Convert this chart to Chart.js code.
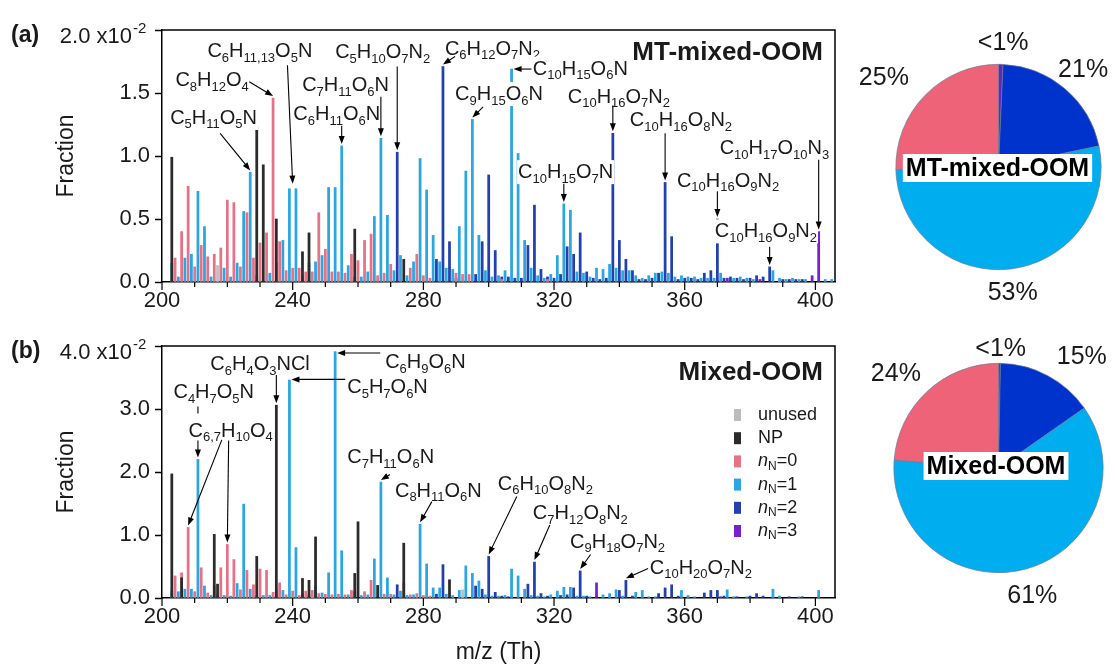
<!DOCTYPE html>
<html>
<head>
<meta charset="utf-8">
<script src="https://cdn.jsdelivr.net/npm/chart.js@4.4.0/dist/chart.umd.min.js"></script>
<style>
  body { margin: 0; background: #fff; }
  #wrap { position: relative; width: 1115px; height: 666px; overflow: hidden; }
  canvas { position: absolute; }
</style>
</head>
<body>
<div id="wrap">
  <canvas id="specA" width="845" height="320" style="left:0;top:0"></canvas>
  <canvas id="specB" width="845" height="346" style="left:0;top:320px"></canvas>
  <canvas id="pieA" width="270" height="320" style="left:845px;top:0"></canvas>
  <canvas id="pieB" width="270" height="346" style="left:845px;top:320px"></canvas>
</div>
<script>
// fonts and colours
const FAMILY = '"Liberation Sans", Arial, sans-serif';
const INK = '#1a1a1a';

// series names (legend order)
const groupNames = ['unused', 'NP', 'nN=0', 'nN=1', 'nN=2', 'nN=3'];
const barColors = ['#bdbdbd', '#2b2b2b', '#e57287', '#2aa6e0', '#2340b0', '#7a1fd0'];
const mzTicks = [200, 240, 280, 320, 360, 400];

// (a) MT-mixed-OOM : [m/z, fraction x1e-2]
const mtUnused = [[217,0.13],[389,0.02],[391,0.02],[393,0.02]];
const mtNP = [[203,0.99],[229,1.23],[231,0.93],[235,0.50],[243,0.24],[245,0.39],[259,0.42],[274,0.18]];
const mtN0 = [[204,0.19],[206,0.40],[208,0.76],[210,0.12],[212,0.29],[214,0.20],[216,0.22],[218,0.27],[220,0.65],[222,0.63],[224,0.12],[226,0.55],[228,0.19],[230,0.31],[232,0.39],[234,1.46],[236,0.32],[238,0.09],[240,0.11],[242,0.11],[244,0.08],[246,0.08],[248,0.55],[250,0.26],[252,0.08],[254,0.08],[256,0.07],[258,0.22],[260,0.17],[262,0.33],[264,0.38],[266,0.05],[268,0.07],[270,0.14],[276,0.11],[278,0.22],[280,0.05],[282,0.03],[290,0.07],[292,0.06],[294,0.06],[304,0.02],[318,0.02]];
const mtN1 = [[203,0.15],[205,0.04],[207,0.19],[209,0.22],[211,0.72],[213,0.44],[215,0.04],[219,0.11],[221,0.04],[223,0.15],[225,0.56],[227,0.87],[229,0.05],[233,0.07],[235,0.15],[237,0.33],[239,0.74],[241,0.74],[243,0.05],[245,0.15],[247,0.16],[249,0.21],[251,0.75],[253,0.75],[255,1.08],[257,0.13],[259,0.04],[261,0.04],[263,0.08],[265,0.52],[267,1.14],[269,0.53],[271,0.09],[273,0.21],[275,0.05],[277,0.16],[279,0.98],[281,0.73],[283,0.37],[285,0.16],[287,0.11],[289,0.10],[291,0.44],[293,0.88],[295,1.29],[297,0.37],[299,0.09],[301,0.04],[303,0.05],[305,0.09],[307,1.69],[309,1.02],[311,0.33],[313,0.11],[315,0.05],[317,0.03],[319,0.06],[321,0.21],[323,0.62],[325,0.57],[327,0.08],[329,0.07],[331,0.04],[333,0.11],[335,0.10],[337,0.14],[339,0.11],[341,0.09],[343,0.09],[345,0.05],[347,0.03],[349,0.05],[351,0.07],[353,0.08],[355,0.07],[357,0.04],[359,0.05],[361,0.04],[363,0.04],[365,0.03],[367,0.03],[369,0.03],[371,0.07],[373,0.03],[375,0.03],[377,0.04],[379,0.03],[381,0.02],[387,0.09],[389,0.03],[391,0.02],[393,0.03],[395,0.02],[397,0.02],[403,0.02],[405,0.02]];
const mtN2 = [[272,1.03],[284,0.18],[286,1.71],[288,0.32],[290,0.03],[296,0.06],[298,0.32],[300,0.85],[302,0.25],[304,0.04],[306,0.04],[308,0.03],[310,0.03],[312,0.29],[314,0.61],[316,0.10],[318,0.04],[320,0.03],[322,0.06],[324,0.28],[326,0.22],[328,0.39],[330,0.08],[332,0.03],[334,0.02],[336,0.03],[338,1.18],[340,0.33],[342,0.18],[344,0.09],[346,0.02],[348,0.02],[350,0.03],[352,0.07],[354,0.79],[356,0.36],[358,0.02],[360,0.03],[362,0.03],[364,0.02],[366,0.07],[368,0.09],[370,0.50],[372,0.03],[374,0.04],[376,0.03],[378,0.02],[380,0.03],[382,0.05],[384,0.04],[386,0.12],[390,0.02],[392,0.02],[394,0.02],[396,0.02]];
const mtN3 = [[373,0.03],[383,0.02],[399,0.05],[401,0.40]];

// (b) Mixed-OOM : [m/z, fraction x1e-2]
const mxUnused = [[246,0.03],[292,0.13]];
const mxNP = [[203,1.97],[206,0.32],[216,1.01],[217,0.22],[229,0.66],[235,3.06],[243,0.31],[245,0.28],[247,0.97],[259,0.39],[260,1.21],[266,0.20],[274,0.87],[288,0.29]];
const mxN0 = [[204,0.35],[206,0.40],[208,1.12],[210,0.10],[212,0.48],[214,0.08],[216,0.19],[218,0.48],[220,0.85],[222,0.61],[224,0.13],[226,0.44],[228,0.21],[230,0.46],[232,0.44],[234,0.09],[236,0.24],[238,0.05],[240,0.11],[242,0.04],[244,0.11],[246,0.12],[248,0.07],[250,0.06],[252,0.05],[254,0.06],[256,0.05],[258,0.12],[262,0.10],[264,0.28],[268,0.06],[270,0.06],[274,0.24],[276,0.05],[278,0.07],[280,0.04],[282,0.03]];
const mxN1 = [[203,0.11],[205,0.10],[207,0.14],[209,0.14],[211,2.20],[213,0.19],[215,0.04],[217,0.05],[219,0.04],[221,0.03],[223,0.23],[225,1.49],[227,0.14],[229,0.04],[231,0.04],[233,0.04],[235,0.14],[237,0.12],[239,3.46],[241,0.80],[243,0.07],[245,0.05],[247,0.19],[249,0.08],[251,0.40],[253,3.91],[255,0.75],[257,0.05],[259,0.10],[261,0.04],[263,0.05],[265,0.62],[267,1.84],[269,0.32],[271,0.05],[273,0.11],[275,0.04],[277,0.05],[279,1.17],[281,0.54],[283,0.16],[285,0.16],[287,0.06],[289,0.04],[291,0.12],[293,0.51],[295,0.39],[297,0.27],[299,0.05],[301,0.03],[303,0.03],[305,0.04],[307,0.46],[309,0.35],[311,0.14],[313,0.04],[315,0.03],[317,0.02],[319,0.05],[321,0.11],[323,0.17],[325,0.17],[327,0.03],[329,0.03],[331,0.02],[335,0.05],[337,0.07],[339,0.13],[341,0.03],[345,0.09],[347,0.12],[349,0.02],[351,0.02],[359,0.12],[361,0.04],[363,0.02],[373,0.13],[375,0.02],[379,0.02],[387,0.14],[389,0.03],[395,0.02],[401,0.12]];
const mxN2 = [[272,0.21],[284,0.06],[286,0.53],[296,0.19],[298,0.14],[300,0.66],[302,0.09],[304,0.03],[306,0.02],[312,0.22],[314,0.57],[316,0.07],[318,0.03],[322,0.04],[324,0.05],[326,0.16],[328,0.43],[330,0.03],[340,0.12],[342,0.28],[344,0.03],[352,0.07],[354,0.16],[356,0.21],[358,0.03],[366,0.08],[368,0.12],[370,0.12],[372,0.03],[376,0.02],[380,0.03],[382,0.07],[384,0.03],[392,0.02],[396,0.02]];
const mxN3 = [[333,0.24],[371,0.02]];

// pie shares (%), order nN=3, nN=2, nN=1, nN=0 (clockwise from top)
const pieNames = ['nN=3', 'nN=2', 'nN=1', 'nN=0'];
const pieColors = ['#6a1fc8', '#0033cc', '#00aeef', '#ee6377'];
const pieMT = [0.7, 21.0, 52.8, 25.4];
const pieMixed = [0.3, 15.0, 60.9, 23.8];

// labelled peaks: label left/centre at [m/z, frac], arrows to bars
const notesA = [
  { t: 'C5H11O5N', at: [202.5, 1.31], arrows: [{ from: [217.8, 1.18], bar: 227 }] },
  { t: 'C8H12O4', at: [204.1, 1.61], arrows: [{ from: [226.7, 1.59], bar: 234 }] },
  { t: 'C6H11,13O5N', at: [213.9, 1.84], arrows: [{ from: [238.4, 1.72], to: [240, 0.78] }] },
  { t: 'C7H11O6N', at: [242.9, 1.57], arrows: [{ from: [267, 1.47], bar: 267 }] },
  { t: 'C6H11O6N', at: [240.2, 1.34], arrows: [{ from: [255, 1.24], bar: 255 }] },
  { t: 'C5H10O7N2', at: [253, 1.83], arrows: [{ from: [272, 1.71], bar: 272 }] },
  { t: 'C6H12O7N2', at: [286.6, 1.86], arrows: [{ from: [289.7, 1.79], bar: 286 }] },
  { t: 'C10H15O6N', at: [313.5, 1.70], arrows: [{ from: [313.1, 1.69], bar: 307, side: true }] },
  { t: 'C9H15O6N', at: [289.7, 1.50], arrows: [{ from: [298.3, 1.39], bar: 295 }] },
  { t: 'C10H16O7N2', at: [324.2, 1.48], arrows: [{ from: [338, 1.40], bar: 338 }] },
  { t: 'C10H16O8N2', at: [343.2, 1.29], arrows: [{ from: [354, 1.18], bar: 354 }] },
  { t: 'C10H17O10N3', at: [370.7, 1.07], arrows: [{ from: [401, 0.97], bar: 401 }] },
  { t: 'C10H15O7N', at: [309, 0.88], arrows: [{ from: [323, 0.78], bar: 323 }] },
  { t: 'C10H16O9N2', at: [357.6, 0.81], arrows: [{ from: [370, 0.72], bar: 370 }] },
  { t: 'C10H16O9N2', at: [369.2, 0.41], arrows: [{ from: [386, 0.28], bar: 386 }] }
];
const notesB = [
  { t: 'C6H4O3NCl', at: [214.8, 3.73], arrows: [{ from: [235, 3.54], bar: 235 }] },
  { t: 'C6H9O6N', at: [268.3, 3.76], arrows: [{ from: [266.8, 3.89], bar: 253, side: true }] },
  { t: 'C5H7O6N', at: [256.7, 3.36], arrows: [{ from: [256.1, 3.47], bar: 239, side: true }] },
  { t: 'C4H7O5N', at: [203.5, 3.28], arrows: [{ from: [211, 3.04], to: [211, 2.93], plain: true }, { from: [211, 2.50], bar: 211 }] },
  { t: 'C6,7H10O4', at: [208.1, 2.67], arrows: [{ from: [218.3, 2.51], bar: 208 }, { from: [220.4, 2.50], bar: 220 }] },
  { t: 'C7H11O6N', at: [256.7, 2.25], arrows: [{ from: [269.8, 1.96], bar: 267 }] },
  { t: 'C8H11O6N', at: [271.3, 1.72], arrows: [{ from: [282.6, 1.53], bar: 279 }] },
  { t: 'C6H10O8N2', at: [302.8, 1.83], arrows: [{ from: [308.6, 1.61], bar: 300 }] },
  { t: 'C7H12O8N2', at: [313.5, 1.36], arrows: [{ from: [318.7, 1.16], bar: 314 }] },
  { t: 'C9H18O7N2', at: [324.9, 0.91], arrows: [{ from: [331.2, 0.69], bar: 328 }] },
  { t: 'C10H20O7N2', at: [349.3, 0.50], arrows: [{ from: [348.8, 0.47], bar: 342 }] }
];

// helpers
function barTop(series, mz) {
  let v = 0;
  series.forEach(s => s.forEach(p => { if (p[0] === mz && p[1] > v) v = p[1]; }));
  return v;
}

function drawFormula(ctx, text, x, y) {
  const parts = text.match(/[0-9,]+|[^0-9,]+/g);
  let w = 0;
  const segs = parts.map(p => {
    const sub = /^[0-9,]+$/.test(p);
    ctx.font = (sub ? 13 : 20) + 'px ' + FAMILY;
    const s = { p: p, sub: sub, x: w };
    w += ctx.measureText(p).width;
    return s;
  });
  ctx.fillStyle = '#fff';
  ctx.fillRect(x - 1, y - 11, w + 2, 24);
  ctx.fillStyle = INK;
  ctx.textAlign = 'left';
  ctx.textBaseline = 'alphabetic';
  segs.forEach(s => {
    ctx.font = (s.sub ? 13 : 20) + 'px ' + FAMILY;
    ctx.fillText(s.p, x + s.x, y + (s.sub ? 11.5 : 7));
  });
}

function drawArrow(ctx, x0, y0, x1, y1, head) {
  const a = Math.atan2(y1 - y0, x1 - x0), L = 8, W = 3;
  ctx.beginPath();
  ctx.moveTo(x0, y0);
  ctx.lineTo(head ? x1 - (L - 1) * Math.cos(a) : x1, head ? y1 - (L - 1) * Math.sin(a) : y1);
  ctx.stroke();
  if (!head) return;
  ctx.beginPath();
  ctx.moveTo(x1, y1);
  ctx.lineTo(x1 - L * Math.cos(a) + W * Math.sin(a), y1 - L * Math.sin(a) - W * Math.cos(a));
  ctx.lineTo(x1 - L * Math.cos(a) - W * Math.sin(a), y1 - L * Math.sin(a) + W * Math.cos(a));
  ctx.closePath();
  ctx.fill();
}

// draws frame, minor ticks, exponent label, titles, peak labels, legend
const panelPlugin = {
  id: 'panel',
  afterDraw(chart, args, o) {
    const ctx = chart.ctx, ca = chart.chartArea;
    const xs = chart.scales.x, ys = chart.scales.y;
    ctx.save();
    ctx.strokeStyle = '#000';
    ctx.lineWidth = 1.5;
    ctx.beginPath();
    ctx.moveTo(ca.left, ca.top);
    ctx.lineTo(ca.right, ca.top);
    ctx.lineTo(ca.right, ca.bottom);
    ctx.stroke();

    ctx.lineWidth = 1.2;
    for (let v = mzTicks[0]; v <= mzTicks[mzTicks.length - 1]; v += 10) {
      const px = xs.getPixelForValue(v);
      const len = mzTicks.includes(v) ? 8 : 5;
      ctx.beginPath();
      ctx.moveTo(px, ca.bottom);
      ctx.lineTo(px, ca.bottom + len);
      ctx.stroke();
    }

    // panel letter and top tick with exponent
    ctx.fillStyle = INK;
    ctx.textBaseline = 'middle';
    ctx.textAlign = 'left';
    ctx.font = 'bold 23px ' + FAMILY;
    ctx.fillText(o.letter, 11, ca.top + 6);
    ctx.font = '22px ' + FAMILY;
    ctx.textAlign = 'right';
    ctx.fillText(ys.max.toFixed(1) + ' x10', ca.left - 30, ca.top + 7);
    ctx.textAlign = 'left';
    ctx.font = '15px ' + FAMILY;
    ctx.fillText('-2', ca.left - 29, ca.top - 1);

    // y title
    ctx.save();
    ctx.translate(67, (ca.top + ca.bottom) / 2);
    ctx.rotate(-Math.PI / 2);
    ctx.textAlign = 'center';
    ctx.font = '23px ' + FAMILY;
    ctx.fillText('Fraction', 0, 0);
    ctx.restore();

    if (o.xTitle) {
      ctx.textAlign = 'center';
      ctx.font = '23px ' + FAMILY;
      ctx.fillText(o.xTitle, (ca.left + ca.right) / 2, ca.bottom + 55);
    }

    ctx.textAlign = 'right';
    ctx.font = 'bold 26px ' + FAMILY;
    ctx.fillText(o.title, ca.right - 12, ca.top + o.titleDy);

    // peak labels (white box) then arrows on top
    o.notes.forEach(n => {
      drawFormula(ctx, n.t, xs.getPixelForValue(n.at[0]), ys.getPixelForValue(n.at[1]));
    });
    ctx.strokeStyle = '#000';
    ctx.fillStyle = '#000';
    ctx.lineWidth = 1.1;
    o.notes.forEach(n => n.arrows.forEach(a => {
      const x0 = xs.getPixelForValue(a.from[0]), y0 = ys.getPixelForValue(a.from[1]);
      let x1, y1;
      if (a.to) {
        x1 = xs.getPixelForValue(a.to[0]);
        y1 = ys.getPixelForValue(a.to[1]);
      } else if (a.side) {
        x1 = xs.getPixelForValue(a.bar) + 2;
        y1 = y0;
      } else {
        x1 = xs.getPixelForValue(a.bar);
        y1 = ys.getPixelForValue(barTop(o.series, a.bar)) - 2;
      }
      drawArrow(ctx, x0, y0, x1, y1, !a.plain);
    }));

    // legend
    if (o.legend) {
      ctx.textBaseline = 'middle';
      groupNames.forEach((g, i) => {
        const y = ca.top + 69 + i * 23.2;
        const x = ca.right - 101;
        ctx.fillStyle = barColors[i];
        ctx.fillRect(x, y - 6, 7, 12);
        ctx.fillStyle = INK;
        ctx.textAlign = 'left';
        let tx = x + 24;
        if (g.startsWith('nN')) {
          ctx.font = 'italic 18px ' + FAMILY;
          ctx.fillText('n', tx, y);
          tx += ctx.measureText('n').width;
          ctx.font = '12px ' + FAMILY;
          ctx.fillText('N', tx, y + 5);
          tx += ctx.measureText('N').width;
          ctx.font = '18px ' + FAMILY;
          ctx.fillText(g.slice(2), tx, y);
        } else {
          ctx.font = '18px ' + FAMILY;
          ctx.fillText(g, tx, y);
        }
      });
    }
    ctx.restore();
  }
};

function makeSpectrum(id, series, yMax, opts) {
  const drawOrder = [5, 1, 3, 2, 4, 0];
  return new Chart(document.getElementById(id), {
    type: 'bar',
    data: {
      datasets: series.map((s, i) => ({
        label: groupNames[i],
        data: s.map(p => ({ x: p[0], y: p[1] })),
        backgroundColor: barColors[i],
        borderWidth: 0,
        barThickness: 2.1,
        grouped: false,
        order: drawOrder[i]
      }))
    },
    options: {
      responsive: false,
      animation: false,
      layout: { padding: { top: opts.padTop, right: 10, left: 0, bottom: 0 } },
      plugins: { legend: { display: false }, tooltip: { enabled: false }, panel: opts },
      scales: {
        x: {
          type: 'linear', min: 200, max: 406, offset: false,
          grid: { display: false, drawTicks: true, tickLength: 6 },
          border: { display: true, color: '#000', width: 1.5 },
          ticks: {
            stepSize: 40, includeBounds: false, autoSkip: false, maxRotation: 0,
            padding: 0, color: INK, font: { size: 22, family: FAMILY },
            callback: v => mzTicks.includes(v) ? String(v) : ''
          },
          afterFit: s => { s.height = opts.xHeight; }
        },
        y: {
          min: 0, max: yMax,
          grid: { display: true, drawOnChartArea: false, drawTicks: true, tickLength: 7, tickColor: '#000', tickWidth: 1.5 },
          border: { display: true, color: '#000', width: 1.5 },
          ticks: {
            stepSize: yMax / 4, padding: 5, color: INK, font: { size: 22, family: FAMILY },
            callback: v => v >= yMax ? '' : v.toFixed(1)
          },
          afterFit: s => { s.width = 162; }
        }
      }
    },
    plugins: [panelPlugin]
  });
}

const seriesA = [mtUnused, mtNP, mtN0, mtN1, mtN2, mtN3];
const seriesB = [mxUnused, mxNP, mxN0, mxN1, mxN2, mxN3];

makeSpectrum('specA', seriesA, 2, {
  padTop: 30, xHeight: 38, letter: '(a)', title: 'MT-mixed-OOM', titleDy: 23,
  notes: notesA, series: seriesA, legend: false, xTitle: ''
});
makeSpectrum('specB', seriesB, 4, {
  padTop: 26, xHeight: 68, letter: '(b)', title: 'Mixed-OOM', titleDy: 27,
  notes: notesB, series: seriesB, legend: true, xTitle: 'm/z (Th)'
});

// pie percentages and centre label
const piePlugin = {
  id: 'pieText',
  afterDraw(chart, args, o) {
    const ctx = chart.ctx, meta = chart.getDatasetMeta(0);
    const vals = chart.data.datasets[0].data;
    ctx.save();
    ctx.textAlign = 'center';
    ctx.textBaseline = 'middle';
    ctx.fillStyle = INK;
    ctx.font = '25px ' + FAMILY;
    meta.data.forEach((arc, i) => {
      const a = (arc.startAngle + arc.endAngle) / 2;
      const c = Math.cos(a), s = Math.sin(a);
      const txt = vals[i] < 1 ? '<1%' : Math.round(vals[i]) + '%';
      const w = ctx.measureText(txt).width;
      const d = arc.outerRadius + 8 + Math.abs(c) * w / 2 + Math.abs(s) * 9;
      ctx.fillText(txt, arc.x + c * d + o.nudge[i][0], arc.y + s * d + o.nudge[i][1]);
    });
    const cx = meta.data[0].x + o.boxDx, cy = meta.data[0].y + o.boxDy;
    ctx.font = 'bold 25px ' + FAMILY;
    const bw = ctx.measureText(o.box).width + 6;
    ctx.fillStyle = '#fff';
    ctx.fillRect(cx - bw / 2, cy - 14, bw, 28);
    ctx.fillStyle = '#000';
    ctx.fillText(o.box, cx, cy + 1);
    ctx.restore();
  }
};

function makePie(id, values, pad, opts) {
  return new Chart(document.getElementById(id), {
    type: 'pie',
    data: {
      labels: pieNames,
      datasets: [{ data: values, backgroundColor: pieColors, borderColor: '#6d7a96', borderWidth: 0.7 }]
    },
    options: {
      responsive: false,
      animation: false,
      layout: { padding: pad },
      plugins: { legend: { display: false }, tooltip: { enabled: false }, pieText: opts }
    },
    plugins: [piePlugin]
  });
}

makePie('pieA', pieMT, { left: 50.5, right: 13.5, top: 64, bottom: 50 },
  { box: 'MT-mixed-OOM', boxDx: -1, boxDy: 1, nudge: [[2, -4], [-2, 5], [0, 4], [-18, 5]] });
makePie('pieB', pieMixed, { left: 48.5, right: 11.5, top: 43, bottom: 93 },
  { box: 'Mixed-OOM', boxDx: -2.5, boxDy: -2, nudge: [[1, 3], [21, 6], [0, 5], [-10, 6]] });
</script>
</body>
</html>
